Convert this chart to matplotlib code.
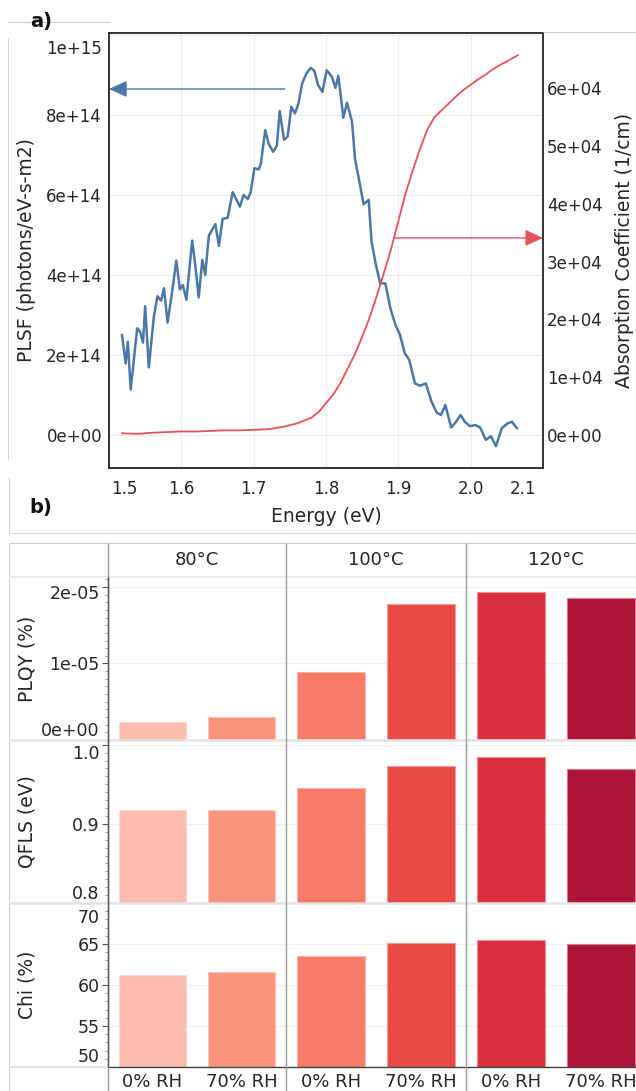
import numpy as np
import matplotlib
matplotlib.use("Agg")
import matplotlib.pyplot as plt
import matplotlib.transforms as mtransforms
from matplotlib.ticker import FuncFormatter, AutoMinorLocator
from matplotlib.patches import FancyArrowPatch
from matplotlib.lines import Line2D

# ---- panel a: PL flux and absorption vs energy ----
energy_pl = [1.518, 1.523, 1.526, 1.530, 1.539, 1.543, 1.547, 1.550, 1.555, 1.562,
             1.567, 1.572, 1.576, 1.581, 1.587, 1.593, 1.598, 1.602, 1.607, 1.615,
             1.619, 1.624, 1.629, 1.633, 1.638, 1.641, 1.647, 1.652, 1.657, 1.664,
             1.671, 1.681, 1.686, 1.692, 1.696, 1.701, 1.707, 1.710, 1.716, 1.721,
             1.727, 1.732, 1.736, 1.742, 1.747, 1.752, 1.757, 1.762, 1.767, 1.773,
             1.779, 1.784, 1.789, 1.795, 1.801, 1.808, 1.813, 1.817, 1.820, 1.824,
             1.829, 1.836, 1.840, 1.847, 1.852, 1.859, 1.863, 1.869, 1.875, 1.882,
             1.889, 1.896, 1.902, 1.909, 1.915, 1.923, 1.930, 1.938, 1.946, 1.953,
             1.959, 1.965, 1.973, 1.979, 1.986, 1.992, 1.999, 2.006, 2.013, 2.021,
             2.028, 2.035, 2.043, 2.051, 2.057, 2.064]
plsf = np.array([2.50, 1.79, 2.33, 1.14, 2.67, 2.58, 2.31, 3.22, 1.69, 2.96,
                 3.47, 3.36, 3.67, 2.81, 3.54, 4.36, 3.64, 3.75, 3.38, 4.86,
                 4.29, 3.44, 4.38, 4.00, 4.98, 5.08, 5.27, 4.73, 5.40, 5.43,
                 6.07, 5.71, 6.00, 5.90, 6.08, 6.67, 6.64, 6.79, 7.62, 7.27,
                 7.08, 7.23, 8.10, 7.38, 7.46, 8.21, 8.04, 8.29, 8.79, 9.04,
                 9.18, 9.10, 8.75, 8.58, 9.12, 8.96, 8.68, 8.98, 8.54, 7.93,
                 8.31, 7.83, 6.92, 6.25, 5.77, 5.88, 4.83, 4.25, 3.79, 3.79,
                 3.17, 2.75, 2.52, 2.04, 1.88, 1.29, 1.23, 1.29, 0.83, 0.56,
                 0.50, 0.75, 0.19, 0.31, 0.50, 0.33, 0.22, 0.25, 0.19, -0.12,
                 -0.03, -0.28, 0.17, 0.29, 0.33, 0.17]) * 1e14

energy_abs = [1.518, 1.54, 1.56, 1.58, 1.60, 1.62, 1.64, 1.66, 1.68, 1.70,
              1.72, 1.74, 1.76, 1.78, 1.79, 1.80, 1.81, 1.82, 1.83, 1.84,
              1.85, 1.86, 1.87, 1.88, 1.89, 1.90, 1.91, 1.92, 1.93, 1.94,
              1.95, 1.96, 1.97, 1.98, 1.99, 2.00, 2.01, 2.02, 2.03, 2.04,
              2.05, 2.065]
absorption = np.array([0.03, 0.02, 0.04, 0.05, 0.06, 0.06, 0.07, 0.08, 0.08, 0.09,
                       0.10, 0.14, 0.20, 0.30, 0.40, 0.55, 0.70, 0.90, 1.15, 1.40,
                       1.70, 2.02, 2.40, 2.80, 3.22, 3.70, 4.18, 4.58, 4.95, 5.28,
                       5.50, 5.62, 5.74, 5.86, 5.97, 6.06, 6.15, 6.23, 6.32, 6.40,
                       6.46, 6.57]) * 1e4

# ---- panel b: facet bars ----
temps = ["80°C", "100°C", "120°C"]
humidity = ["0% RH", "70% RH"]
plqy = [2.4e-6, 3.0e-6, 8.9e-6, 1.78e-5, 1.93e-5, 1.86e-5]
qfls = [0.918, 0.918, 0.945, 0.973, 0.985, 0.969]
chi = [61.2, 61.6, 63.5, 65.1, 65.5, 65.0]
bar_colors = ["#fcbcae", "#f9937d", "#f67b68", "#e84a46", "#d8303f", "#ae1439"]

BLUE = "#4b78a8"
RED = "#e6525a"
TXT = "#262626"

W, H, DPI = 636, 1091, 100
plt.rcParams['font.family'] = ['DejaVu Sans']

fig = plt.figure(figsize=(W / DPI, H / DPI), dpi=DPI)


def box(l, t, r, b):
    return [l / W, 1 - b / H, (r - l) / W, (b - t) / H]


def nudge(lab, dx, dy):
    # move a tick label by (dx, dy) pixels, dy positive = downwards
    off = mtransforms.ScaledTranslation(dx / DPI, -dy / DPI, fig.dpi_scale_trans)
    lab.set_transform(lab.get_transform() + off)


sci = FuncFormatter(lambda v, p: '%.0e' % v)

# ---------------- panel a ----------------
ax = fig.add_axes(box(109, 33, 543, 468))
ax.plot(energy_pl, plsf, color=BLUE, lw=1.8, zorder=3)
ax.set_xlim(1.5, 2.1)
ax.set_ylim(-0.825e14, 10.05e14)
ax.set_xticks([1.5, 1.6, 1.7, 1.8, 1.9, 2.0, 2.1])
ax.xaxis.set_major_formatter(FuncFormatter(lambda v, p: '%.1f' % v))
ax.set_yticks([0, 2e14, 4e14, 6e14, 8e14, 1e15])
ax.yaxis.set_major_formatter(sci)
ax.grid(True, color='#ececec', lw=0.8)
ax.set_axisbelow(True)
ax.tick_params(length=0, labelsize=12, labelcolor=TXT)
ax.tick_params(axis='y', pad=5)
ax.tick_params(axis='x', pad=9)
for s in ax.spines.values():
    s.set_color('#333333')
    s.set_linewidth(1.2)
ax.set_xlabel('Energy (eV)', fontsize=13.5, color=TXT, va='center')
ax.xaxis.set_label_coords(0.5, -(517 - 468) / 435)
ax.set_ylabel('PLSF (photons/eV-s-m2)', fontsize=13.5, color=TXT, va='center')
ax.yaxis.set_label_coords((27 - 109) / 434, 0.5)

ax2 = ax.twinx()
ax2.plot(energy_abs, absorption, color=RED, lw=1.3, zorder=3)
ax2.set_ylim(-0.571e4, 6.955e4)
ax2.set_yticks([0, 1e4, 2e4, 3e4, 4e4, 5e4, 6e4])
ax2.yaxis.set_major_formatter(sci)
ax2.tick_params(length=0, labelsize=12, labelcolor=TXT, pad=3)
for s in ax2.spines.values():
    s.set_color('#333333')
    s.set_linewidth(1.2)
ax2.set_ylabel('Absorption Coefficient (1/cm)', fontsize=13.5, color=TXT,
               va='center')
ax2.yaxis.set_label_coords((625 - 109) / 434, 0.5)

# arrows pointing each curve to its own axis
ax.add_patch(FancyArrowPatch((1.743, 8.65e14), (1.5, 8.65e14),
                             arrowstyle='-|>,head_length=11,head_width=5',
                             mutation_scale=1, lw=1.0, color=BLUE,
                             shrinkA=0, shrinkB=0, clip_on=False, zorder=4))
ax2.add_patch(FancyArrowPatch((1.894, 3.41e4), (2.1, 3.41e4),
                              arrowstyle='-|>,head_length=11,head_width=5',
                              mutation_scale=1, lw=1.0, color=RED,
                              shrinkA=0, shrinkB=0, clip_on=False, zorder=4))

xl = ax.get_xticklabels()
nudge(xl[0], 15, 0)
nudge(xl[-1], -20, 0)
nudge(ax.get_yticklabels()[-1], 0, 12)

# ---------------- panel b ----------------
cols_px = [(108, 286), (286, 466), (466, 646)]
rows_px = [(577, 740), (740, 903), (903, 1067)]
rows = [
    dict(vals=plqy, lim=(0, 2.13e-5), ticks=[0, 1e-5, 2e-5], fmt=sci,
         minor=10, label='PLQY (%)', shift=(-11, 5)),
    dict(vals=qfls, lim=(0.8, 1.006), ticks=[0.8, 0.9, 1.0],
         fmt=FuncFormatter(lambda v, p: '%.1f' % v), minor=10,
         label='QFLS (eV)', shift=(-11, 7)),
    dict(vals=chi, lim=(50, 70), ticks=[50, 55, 60, 65, 70],
         fmt=FuncFormatter(lambda v, p: '%d' % round(v)), minor=5,
         label='Chi (%)', shift=(-12, 13)),
]

pos = [1, 2]
for ri, row in enumerate(rows):
    t, b = rows_px[ri]
    for ci, (l, r) in enumerate(cols_px):
        axf = fig.add_axes(box(l, t, r, b))
        axf.set_facecolor('none')
        vals = row['vals'][2 * ci:2 * ci + 2]
        cols = bar_colors[2 * ci:2 * ci + 2]
        edges = [tuple(0.55 * np.array(matplotlib.colors.to_rgb(c)) + 0.45)
                 for c in cols]
        axf.bar(pos, vals, width=0.75, color=cols, edgecolor=edges, lw=0.8,
                zorder=2)
        axf.set_xlim(0.5, 2.5)
        axf.set_ylim(*row['lim'])
        axf.set_yticks(row['ticks'])
        axf.yaxis.set_major_formatter(row['fmt'])
        axf.grid(axis='y', color='#f1f1f1', lw=0.9)
        axf.set_axisbelow(True)
        for s in axf.spines.values():
            s.set_visible(False)
        if ri == 2:
            axf.set_xticks(pos)
            axf.set_xticklabels(humidity)
            axf.tick_params(axis='x', length=0, labelsize=13,
                            labelcolor=TXT, pad=4)
        else:
            axf.set_xticks([])
        if ci == 0:
            axf.yaxis.set_minor_locator(AutoMinorLocator(row['minor']))
            axf.tick_params(axis='y', which='major', length=4, width=0.8,
                            color='#555555', labelsize=12.5, labelcolor=TXT,
                            pad=2)
            axf.tick_params(axis='y', which='minor', length=2, width=0.6,
                            color='#888888')
            axf.set_ylabel(row['label'], fontsize=13.5, color=TXT, va='center')
            axf.yaxis.set_label_coords((27 - l) / (r - l), 0.5)
            yl = axf.get_yticklabels()
            nudge(yl[0], 0, row['shift'][0])
            nudge(yl[-1], 0, row['shift'][1])
        else:
            axf.tick_params(axis='y', which='both', left=False,
                            labelleft=False)

# frame lines, strip titles and panel letters drawn in pixel space
ov = fig.add_axes([0, 0, 1, 1])
ov.set_xlim(0, W)
ov.set_ylim(H, 0)
ov.axis('off')
ov.patch.set_visible(False)


def seg(x0, y0, x1, y1, color, lw):
    ov.add_line(Line2D([x0, x1], [y0, y1], color=color, lw=lw,
                       solid_capstyle='butt'))


# faint outlines around the panel blocks
seg(8, 22, 110, 22, '#cfcfcf', 0.8)
seg(8, 38, 8, 460, '#d4d4d4', 0.8)
seg(543, 32, 636, 32, '#cfcfcf', 0.8)
seg(9, 477, 9, 533, '#d4d4d4', 0.8)
seg(9, 533, 636, 533, '#d9d9d9', 0.8)

# facet grid lines
seg(9, 543, 636, 543, '#c9c9c9', 0.8)
seg(9, 543, 9, 1091, '#d0d0d0', 0.8)
seg(9, 577, 636, 577, '#ebebeb', 1.5)
seg(9, 740, 636, 740, '#e3e3e3', 1.8)
seg(9, 903, 636, 903, '#e3e3e3', 1.8)
seg(9, 1067, 108, 1067, '#e3e3e3', 1.5)
seg(108, 1067, 636, 1067, '#444444', 1.0)
for xv in (108, 286, 466):
    seg(xv, 543, xv, 1091, '#9a9a9a', 1.0)
seg(108, 577, 108, 1067, '#555555', 1.0)

for (l, r), name in zip(cols_px, temps):
    ov.text((l + r) / 2 if r <= W else l + 90, 560, name, fontsize=13,
            color=TXT, ha='center', va='center')

ov.text(41, 22, 'a)', fontsize=14, fontweight='bold', color='#111111',
        ha='center', va='center')
ov.text(41, 507, 'b)', fontsize=14, fontweight='bold', color='#111111',
        ha='center', va='center')

fig.savefig('out.png', dpi=DPI)
